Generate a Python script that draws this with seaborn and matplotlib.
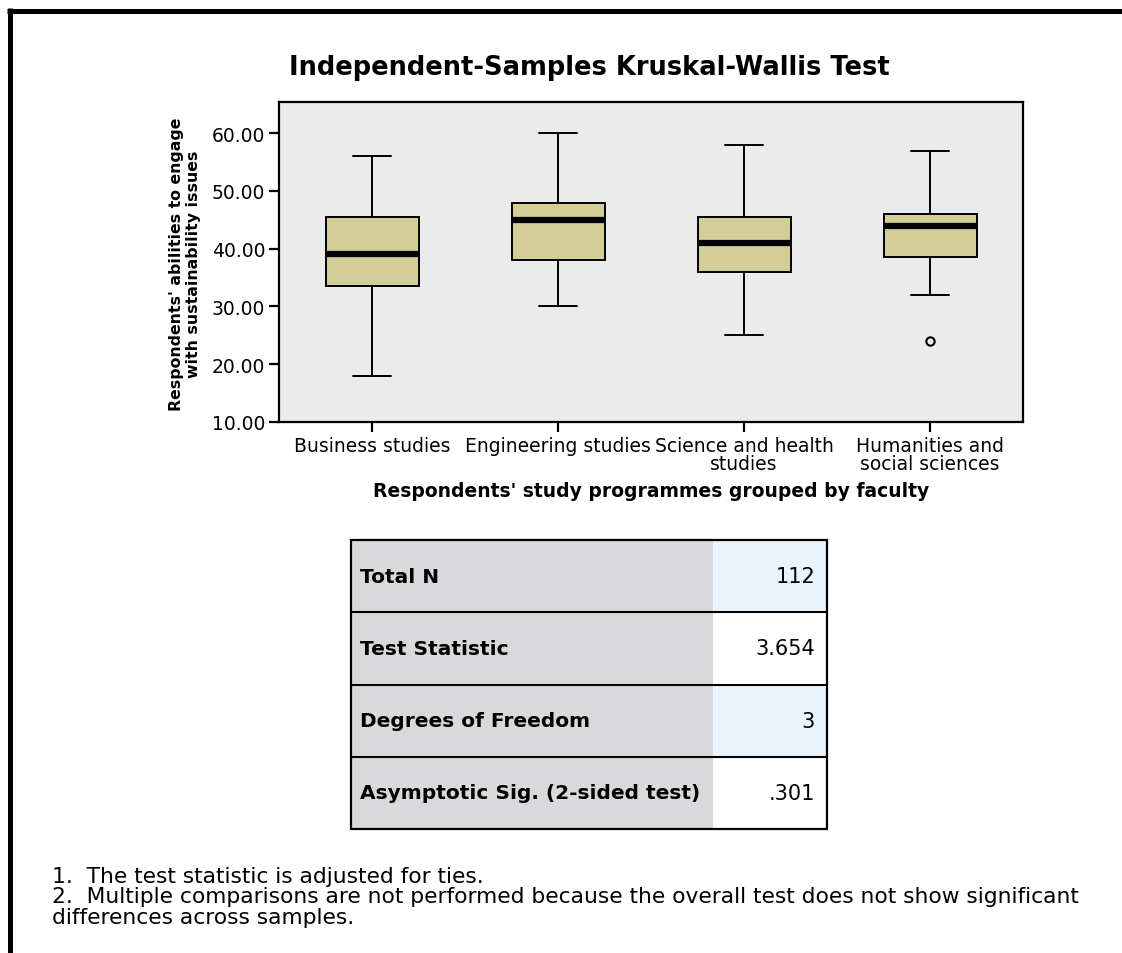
import numpy as np
import pandas as pd
import seaborn as sns
import matplotlib.pyplot as plt
from matplotlib.ticker import FormatStrFormatter, MultipleLocator
from matplotlib.lines import Line2D
from matplotlib.patches import Rectangle

# scores per faculty (chosen so the box stats match the chart)
faculties = ['Business studies', 'Engineering studies',
             'Science and health\nstudies', 'Humanities and\nsocial sciences']
business = [18, 33.5, 39, 45.5, 56]
engineering = [30, 38, 45, 48, 60]
science = [25, 36, 41, 45.5, 58]
humanities = [24, 32, 38.5, 40, 44, 45, 46, 50, 57]

table_labels = ['Total N', 'Test Statistic', 'Degrees of Freedom', 'Asymptotic Sig. (2-sided test)']
table_values = ['112', '3.654', '3', '.301']

footnotes = ['1.  The test statistic is adjusted for ties.',
             '2.  Multiple comparisons are not performed because the overall test does not show significant',
             'differences across samples.']

groups = [business, engineering, science, humanities]
df = pd.DataFrame({'faculty': np.repeat(faculties, [len(g) for g in groups]),
                   'score': np.concatenate(groups)})

sns.set_style('white')
plt.rcParams['font.family'] = ['DejaVu Sans']
plt.rcParams['text.color'] = 'black'
plt.rcParams['axes.labelcolor'] = 'black'

W, H = 1122, 954
fig = plt.figure(figsize=(W / 100, H / 100), dpi=100)

ax = fig.add_axes([279 / W, 1 - 423 / H, 744 / W, 320 / H])
sns.boxplot(data=df, x='faculty', y='score', order=faculties, color='#D3CE97', saturation=1,
            width=0.5, linecolor='black', linewidth=1.4, fliersize=6, ax=ax,
            capwidths=0.2,
            medianprops={'linewidth': 4.5, 'color': 'black'},
            flierprops={'marker': 'o', 'markerfacecolor': 'none',
                        'markeredgecolor': 'black', 'markeredgewidth': 1.5})
ax.set_facecolor('#EBEBEB')
ax.set_xlim(-0.5, 3.5)
ax.set_ylim(10, 65.4)
ax.yaxis.set_major_locator(MultipleLocator(10))
ax.yaxis.set_major_formatter(FormatStrFormatter('%.2f'))
ax.set_xlabel('')
ax.set_ylabel('')
for s in ax.spines.values():
    s.set_linewidth(1.6)
    s.set_color('black')
ax.tick_params(axis='both', direction='out', left=True, bottom=True, length=7, width=1.6,
               colors='black', labelcolor='black', labelsize=13.5, pad=3)
for lbl in ax.get_xticklabels():
    lbl.set_linespacing(0.95)

fig.text(589 / W, 1 - 68 / H, 'Independent-Samples Kruskal-Wallis Test',
         ha='center', va='center', fontsize=18.5, fontweight='bold')
fig.text(185 / W, 1 - 264 / H, "Respondents' abilities to engage\nwith sustainability issues",
         rotation=90, ha='center', va='center', multialignment='center',
         fontsize=11.3, fontweight='bold', linespacing=1.15)
fig.text(651 / W, 1 - 492 / H, "Respondents' study programmes grouped by faculty",
         ha='center', va='center', fontsize=13.5, fontweight='bold')

# results table
tab = fig.add_axes([351 / W, 1 - 830 / H, 476 / W, 289 / H])
tab.set_xlim(0, 1)
tab.set_ylim(0, 4)
tab.axis('off')
split = 362 / 476
for i, (lab, val) in enumerate(zip(table_labels, table_values)):
    y0 = 3 - i
    tab.add_patch(Rectangle((0, y0), split, 1, facecolor='#D9D9DB', edgecolor='none'))
    tab.add_patch(Rectangle((split, y0), 1 - split, 1,
                            facecolor='#EAF4FD' if i % 2 == 0 else 'white', edgecolor='none'))
    tab.text(0.019, y0 + 0.5, lab, fontweight='bold', fontsize=14.5, va='center')
    tab.text(0.975, y0 + 0.5, val, ha='right', va='center', fontsize=15)
    if i > 0:
        tab.plot([0, 1], [y0 + 1, y0 + 1], color='black', lw=1.5)
tab.add_patch(Rectangle((0, 0), 1, 4, fill=False, edgecolor='black', lw=1.6, clip_on=False))

for k, line in enumerate(footnotes):
    fig.text(52 / W, 1 - (877 + 20.5 * k) / H, line, va='center', fontsize=15.7)

# frame
fig.add_artist(Line2D([9.5 / W, 9.5 / W], [0, 1 - 9 / H], transform=fig.transFigure,
                      color='black', lw=3.6, solid_capstyle='butt'))
fig.add_artist(Line2D([7 / W, 1], [1 - 11.5 / H, 1 - 11.5 / H], transform=fig.transFigure,
                      color='black', lw=3.6, solid_capstyle='butt'))

fig.savefig('out.png', dpi=100, facecolor='white')
